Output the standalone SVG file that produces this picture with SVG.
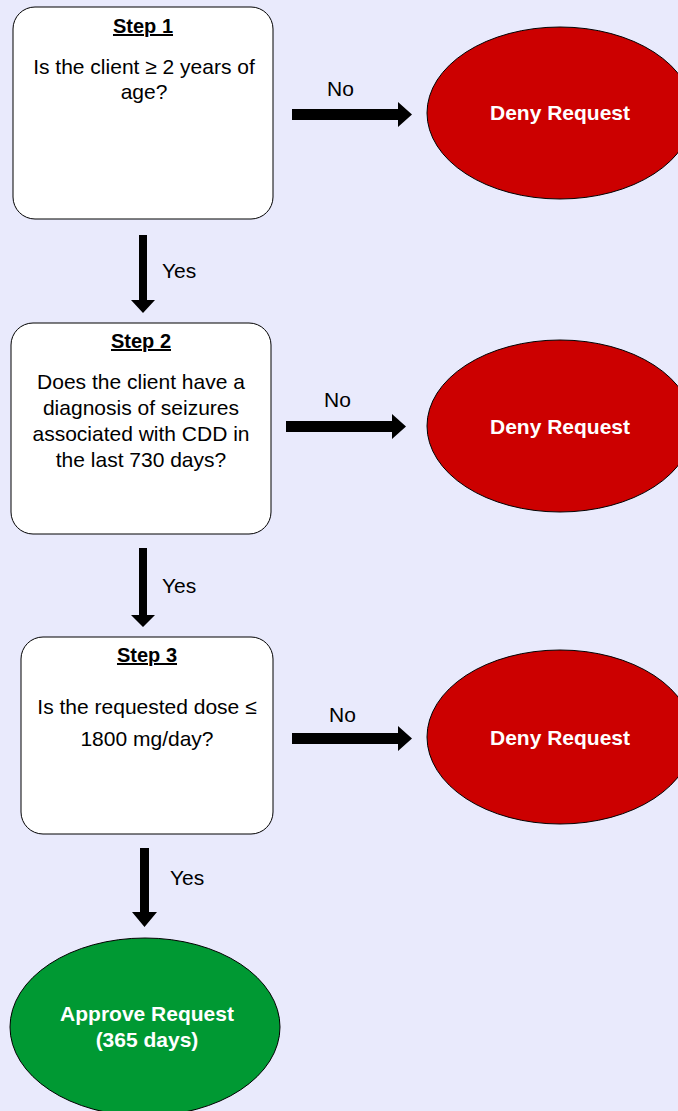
<svg xmlns="http://www.w3.org/2000/svg" width="678" height="1111" viewBox="0 0 678 1111">
<style>
.box{fill:#ffffff;stroke:#000000;stroke-width:1}
.deny{fill:#CC0000;stroke:#000000;stroke-width:1}
.ok{fill:#009933;stroke:#000000;stroke-width:1}
.t{font-family:"Liberation Sans",Arial,sans-serif;font-size:21px;fill:#000000;text-anchor:middle}
.h{font-family:"Liberation Sans",Arial,sans-serif;font-size:20px;font-weight:bold;fill:#000000;text-anchor:middle;text-decoration:underline}
.w{font-family:"Liberation Sans",Arial,sans-serif;font-size:21px;font-weight:bold;fill:#ffffff;text-anchor:middle}
.lbl{font-family:"Liberation Sans",Arial,sans-serif;font-size:21px;fill:#000000}
.arr{fill:#000000}
</style>
<rect width="678" height="1111" fill="#E9EAFC"/>
<g id="connectors">
<polygon class="arr" points="292,109 398,109 398,102 412,114.5 398,127 398,120 292,120"/>
<polygon class="arr" points="286,421 392,421 392,414 406,426.5 392,439 392,432 286,432"/>
<polygon class="arr" points="292,733 398,733 398,726 412,738.5 398,751 398,744 292,744"/>
<polygon class="arr" points="139,235 147,235 147,300 155,300 143,313 131,300 139,300"/>
<polygon class="arr" points="139,548 147,548 147,615 155,615 143,627 131,615 139,615"/>
<polygon class="arr" points="140,848 149,848 149,912 157,912 144.5,927 132,912 140,912"/>
<text class="lbl" x="327" y="96">No</text>
<text class="lbl" x="324" y="407">No</text>
<text class="lbl" x="329" y="722">No</text>
<text class="lbl" x="162" y="278">Yes</text>
<text class="lbl" x="162" y="593">Yes</text>
<text class="lbl" x="170" y="885">Yes</text>
</g>
<g id="step1">
<rect class="box" x="13" y="7" width="260" height="212" rx="22"/>
<text class="h" x="143" y="33">Step 1</text>
<text class="t" x="144" y="74">Is the client ≥ 2 years of</text>
<text class="t" x="144" y="99">age?</text>
</g>
<g id="step2">
<rect class="box" x="11" y="323" width="260" height="211" rx="22"/>
<text class="h" x="141" y="348">Step 2</text>
<text class="t" x="141" y="389">Does the client have a</text>
<text class="t" x="141" y="415">diagnosis of seizures</text>
<text class="t" x="141" y="441">associated with CDD in</text>
<text class="t" x="141" y="467">the last 730 days?</text>
</g>
<g id="step3">
<rect class="box" x="21" y="637" width="252" height="197" rx="22"/>
<text class="h" x="147" y="662">Step 3</text>
<text class="t" x="147" y="714">Is the requested dose ≤</text>
<text class="t" x="147" y="746">1800 mg/day?</text>
</g>
<g id="deny1">
<ellipse class="deny" cx="560" cy="113" rx="133" ry="86"/>
<text class="w" x="560" y="120">Deny Request</text>
</g>
<g id="deny2">
<ellipse class="deny" cx="560" cy="426" rx="133" ry="86"/>
<text class="w" x="560" y="434">Deny Request</text>
</g>
<g id="deny3">
<ellipse class="deny" cx="560" cy="737" rx="133" ry="87"/>
<text class="w" x="560" y="745">Deny Request</text>
</g>
<g id="approve">
<ellipse class="ok" cx="145" cy="1027" rx="135" ry="89"/>
<text class="w" x="147" y="1021">Approve Request</text>
<text class="w" x="147" y="1047">(365 days)</text>
</g>
</svg>
